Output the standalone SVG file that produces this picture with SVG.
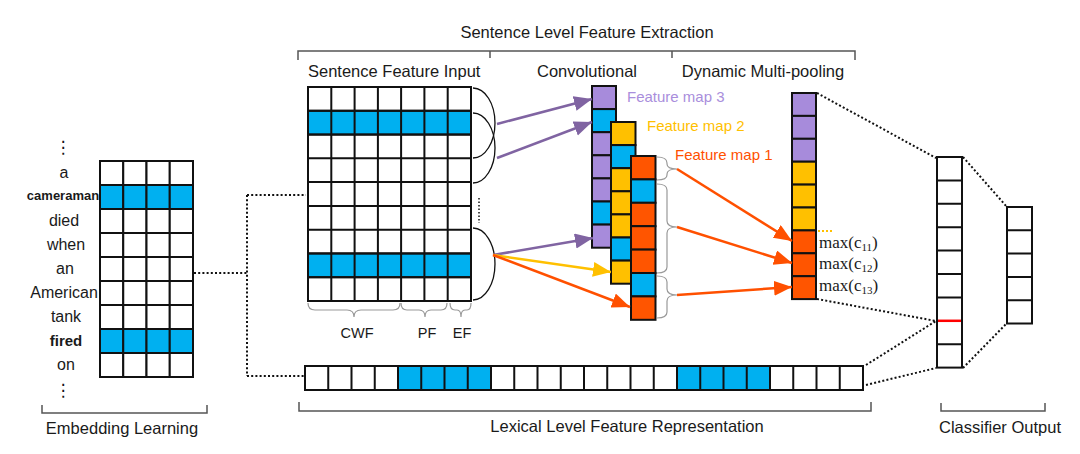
<svg xmlns="http://www.w3.org/2000/svg" width="1080" height="454" viewBox="0 0 1080 454">
<style>
text{font-family:"Liberation Sans",Arial,sans-serif;fill:#1a1a1a}
.lbl{font-size:16.5px}
.mid{text-anchor:middle}
.vd{font-family:"DejaVu Sans",sans-serif;font-size:17px;fill:#111}
.w{fill:#fff;stroke:#111;stroke-width:2}
.b{fill:#00B0F0;stroke:#111;stroke-width:2}
.p{fill:#A78BDB;stroke:#111;stroke-width:2}
.y{fill:#FFC000;stroke:#111;stroke-width:2}
.o{fill:#FF5500;stroke:#111;stroke-width:2}
.dot{fill:none;stroke:#111;stroke-width:2;stroke-dasharray:2 2.2}
.brk{fill:none;stroke:#555;stroke-width:1.5}
.brace{fill:none;stroke:#999;stroke-width:1.2}
.arc{fill:none;stroke:#111;stroke-width:1.3}
.ap{stroke:#8064A2;stroke-width:2.5;fill:none}
.ay{stroke:#FFC000;stroke-width:2.5;fill:none}
.ao{stroke:#FF5000;stroke-width:2.5;fill:none}
.serif{font-family:"Liberation Serif","Times New Roman",serif;font-size:17px}
</style>
<defs>
<marker id="mp" markerUnits="userSpaceOnUse" markerWidth="20" markerHeight="16" refX="18" refY="7.5" orient="auto"><path d="M0,0 L18,7.5 L0,15 z" fill="#8064A2"/></marker>
<marker id="my" markerUnits="userSpaceOnUse" markerWidth="20" markerHeight="16" refX="18" refY="7.5" orient="auto"><path d="M0,0 L18,7.5 L0,15 z" fill="#FFC000"/></marker>
<marker id="mo" markerUnits="userSpaceOnUse" markerWidth="20" markerHeight="16" refX="18" refY="7.5" orient="auto"><path d="M0,0 L18,7.5 L0,15 z" fill="#FF5000"/></marker>
</defs>

<!-- section titles and brackets -->
<g id="titles">
<text class="lbl mid" x="587" y="38">Sentence Level Feature Extraction</text>
<path class="brk" d="M298,60 L298,51 L855,51 L855,60 M490,51 L490,58 M672,51 L672,58"/>
<text class="lbl" x="308" y="77">Sentence Feature Input</text>
<text class="lbl mid" x="587" y="77">Convolutional</text>
<text class="lbl mid" x="763" y="77">Dynamic Multi-pooling</text>
<path class="brk" d="M42,405 L42,413 L207,413 L207,405"/>
<text class="lbl mid" x="122" y="434">Embedding Learning</text>
<path class="brk" d="M299,402 L299,411 L871,411 L871,402"/>
<text class="lbl mid" x="627" y="432">Lexical Level Feature Representation</text>
<path class="brk" d="M941,403 L941,411 L1045,411 L1045,403"/>
<text class="lbl mid" x="1000" y="433">Classifier Output</text>
</g>

<!-- embedding learning -->
<g id="embedding">
<g style="font-size:16px" text-anchor="middle">
<text class="vd" x="63" y="153">⋮</text>
<text x="64" y="178">a</text>
<text x="63" y="200" style="font-size:13px;font-weight:bold">cameraman</text>
<text x="64" y="226">died</text>
<text x="66" y="250">when</text>
<text x="65" y="274">an</text>
<text x="64" y="298">American</text>
<text x="66" y="322">tank</text>
<text x="66" y="346" style="font-size:15px;font-weight:bold">fired</text>
<text x="66" y="370">on</text>
<text class="vd" x="63" y="396">⋮</text>
</g>
<g>
<rect class="w" x="100" y="161" width="23.25" height="24"/><rect class="w" x="123.25" y="161" width="23.25" height="24"/><rect class="w" x="146.5" y="161" width="23.25" height="24"/><rect class="w" x="169.75" y="161" width="23.25" height="24"/>
<rect class="b" x="100" y="185" width="23.25" height="24"/><rect class="b" x="123.25" y="185" width="23.25" height="24"/><rect class="b" x="146.5" y="185" width="23.25" height="24"/><rect class="b" x="169.75" y="185" width="23.25" height="24"/>
<rect class="w" x="100" y="209" width="23.25" height="24"/><rect class="w" x="123.25" y="209" width="23.25" height="24"/><rect class="w" x="146.5" y="209" width="23.25" height="24"/><rect class="w" x="169.75" y="209" width="23.25" height="24"/>
<rect class="w" x="100" y="233" width="23.25" height="24"/><rect class="w" x="123.25" y="233" width="23.25" height="24"/><rect class="w" x="146.5" y="233" width="23.25" height="24"/><rect class="w" x="169.75" y="233" width="23.25" height="24"/>
<rect class="w" x="100" y="257" width="23.25" height="24"/><rect class="w" x="123.25" y="257" width="23.25" height="24"/><rect class="w" x="146.5" y="257" width="23.25" height="24"/><rect class="w" x="169.75" y="257" width="23.25" height="24"/>
<rect class="w" x="100" y="281" width="23.25" height="24"/><rect class="w" x="123.25" y="281" width="23.25" height="24"/><rect class="w" x="146.5" y="281" width="23.25" height="24"/><rect class="w" x="169.75" y="281" width="23.25" height="24"/>
<rect class="w" x="100" y="305" width="23.25" height="24"/><rect class="w" x="123.25" y="305" width="23.25" height="24"/><rect class="w" x="146.5" y="305" width="23.25" height="24"/><rect class="w" x="169.75" y="305" width="23.25" height="24"/>
<rect class="b" x="100" y="329" width="23.25" height="24"/><rect class="b" x="123.25" y="329" width="23.25" height="24"/><rect class="b" x="146.5" y="329" width="23.25" height="24"/><rect class="b" x="169.75" y="329" width="23.25" height="24"/>
<rect class="w" x="100" y="353" width="23.25" height="24"/><rect class="w" x="123.25" y="353" width="23.25" height="24"/><rect class="w" x="146.5" y="353" width="23.25" height="24"/><rect class="w" x="169.75" y="353" width="23.25" height="24"/>
</g>
</g>

<!-- sentence feature input grid -->
<g id="sentence-input">
<g>
<rect class="w" x="308" y="87" width="163" height="214"/>
<rect class="b" x="308" y="110.8" width="163" height="23.8"/>
<rect class="b" x="308" y="253.4" width="163" height="23.8"/>
<path fill="none" stroke="#111" stroke-width="2" d="M331.3,87V301 M354.6,87V301 M377.9,87V301 M401.1,87V301 M424.4,87V301 M447.7,87V301 M308,110.8H471 M308,134.6H471 M308,158.3H471 M308,182.1H471 M308,205.9H471 M308,229.7H471 M308,253.4H471 M308,277.2H471"/>
</g>
<path class="brace" d="M308,303 Q308,310 315,310 L347,310 Q354,310 354,317 Q354,310 361,310 L393,310 Q400,310 400,303"/>
<path class="brace" d="M401,303 Q401,310 407,310 L419,310 Q425,310 425,317 Q425,310 431,310 L441,310 Q447,310 447,303"/>
<path class="brace" d="M450,303 Q450,310 455,310 L457,310 Q461,310 461,317 Q461,310 465,310 L467,310 Q471,310 471,303"/>
<text x="357" y="338" class="mid" style="font-size:14.5px">CWF</text>
<text x="427" y="338" class="mid" style="font-size:14.5px">PF</text>
<text x="462" y="338" class="mid" style="font-size:14.5px">EF</text>
<path class="arc" d="M473,88 A22,35 0 0 1 473,158"/>
<path class="arc" d="M473,113 A22,35 0 0 1 473,183"/>
<path class="arc" d="M473,228 A22,36 0 0 1 473,300"/>
<path fill="none" stroke="#111" stroke-width="1.5" stroke-dasharray="1.5 2" d="M479,198 V223"/>
</g>

<!-- feature map 3 -->
<g id="feature-map-3">
<rect class="p" x="592" y="86" width="24" height="23.1"/>
<rect class="b" x="592" y="109.1" width="24" height="23.1"/>
<rect class="p" x="592" y="132.2" width="24" height="23.1"/>
<rect class="p" x="592" y="155.3" width="24" height="23.1"/>
<rect class="p" x="592" y="178.4" width="24" height="23.1"/>
<rect class="b" x="592" y="201.5" width="24" height="23.1"/>
<rect class="p" x="592" y="224.6" width="24" height="23.1"/>
<text x="627" y="102" style="font-size:15px;fill:#A98EDC">Feature map 3</text>
</g>
<!-- feature map 2 -->
<g id="feature-map-2">
<rect class="y" x="611" y="122" width="24.5" height="23.1"/>
<rect class="b" x="611" y="145.1" width="24.5" height="23.1"/>
<rect class="y" x="611" y="168.2" width="24.5" height="23.1"/>
<rect class="y" x="611" y="191.3" width="24.5" height="23.1"/>
<rect class="y" x="611" y="214.4" width="24.5" height="23.1"/>
<rect class="b" x="611" y="237.5" width="24.5" height="23.1"/>
<rect class="y" x="611" y="260.6" width="24.5" height="23.1"/>
<text x="647" y="131" style="font-size:15px;fill:#FFC000">Feature map 2</text>
</g>
<!-- feature map 1 -->
<g id="feature-map-1">
<rect class="o" x="631" y="156" width="24.5" height="23.4"/>
<rect class="b" x="631" y="179.4" width="24.5" height="23.4"/>
<rect class="o" x="631" y="202.8" width="24.5" height="23.4"/>
<rect class="o" x="631" y="226.2" width="24.5" height="23.4"/>
<rect class="o" x="631" y="249.6" width="24.5" height="23.4"/>
<rect class="b" x="631" y="273" width="24.5" height="23.4"/>
<rect class="o" x="631" y="296.4" width="24.5" height="23.4"/>
<text x="675" y="160" style="font-size:15px;fill:#FF5000">Feature map 1</text>
<path class="brace" d="M657,157 Q667,157 667,163 L667,164 Q667,169 677,169 Q667,169 667,174 L667,175 Q667,180 657,180"/>
<path class="brace" d="M657,184 Q667,184 667,190 L667,221 Q667,227 677,227 Q667,227 667,233 L667,267 Q667,273 657,273"/>
<path class="brace" d="M657,276 Q667,276 667,282 L667,289 Q667,295 677,295 Q667,295 667,301 L667,312 Q667,318 657,318"/>
</g>

<!-- dynamic multi-pooling -->
<g id="pooling">
<rect class="p" x="792" y="93" width="24" height="22.9"/>
<rect class="p" x="792" y="115.9" width="24" height="22.9"/>
<rect class="p" x="792" y="138.8" width="24" height="22.9"/>
<rect class="y" x="792" y="161.7" width="24" height="22.9"/>
<rect class="y" x="792" y="184.6" width="24" height="22.9"/>
<rect class="y" x="792" y="207.5" width="24" height="22.9"/>
<rect class="o" x="792" y="230.4" width="24" height="22.9"/>
<rect class="o" x="792" y="253.3" width="24" height="22.9"/>
<rect class="o" x="792" y="276.2" width="24" height="22.9"/>
<path fill="none" stroke="#FFC000" stroke-width="2" stroke-dasharray="2 2" d="M818,231 H833"/>
<text class="serif" x="819" y="248">max(c<tspan style="font-size:11px" dy="3">11</tspan><tspan dy="-3">)</tspan></text>
<text class="serif" x="819" y="269">max(c<tspan style="font-size:11px" dy="3">12</tspan><tspan dy="-3">)</tspan></text>
<text class="serif" x="819" y="291">max(c<tspan style="font-size:11px" dy="3">13</tspan><tspan dy="-3">)</tspan></text>
</g>

<!-- lexical bar -->
<g id="lexical-bar">
<rect class="w" x="305" y="366" width="558" height="24"/>
<rect class="b" x="398" y="366" width="93" height="24"/>
<rect class="b" x="677" y="366" width="93" height="24"/>
<path fill="none" stroke="#111" stroke-width="2" d="M328.25,366v24 M351.5,366v24 M374.75,366v24 M398,366v24 M421.25,366v24 M444.5,366v24 M467.75,366v24 M491,366v24 M514.25,366v24 M537.5,366v24 M560.75,366v24 M584,366v24 M607.25,366v24 M630.5,366v24 M653.75,366v24 M677,366v24 M700.25,366v24 M723.5,366v24 M746.75,366v24 M770,366v24 M793.25,366v24 M816.5,366v24 M839.75,366v24"/>
</g>

<!-- classifier -->
<g id="classifier">
<rect class="w" x="937" y="157" width="25" height="210.6"/>
<path fill="none" stroke="#111" stroke-width="2" d="M937,180.4H962 M937,203.8H962 M937,227.2H962 M937,250.6H962 M937,274H962 M937,297.4H962 M937,344.2H962"/>
<path fill="none" stroke="#FF0000" stroke-width="2.5" d="M938,320.8H961"/>
</g>
<g id="output">
<rect class="w" x="1007" y="207" width="25" height="116.5"/>
<path fill="none" stroke="#111" stroke-width="2" d="M1007,230.3H1032 M1007,253.6H1032 M1007,276.9H1032 M1007,300.2H1032"/>
</g>

<!-- connectors -->
<g id="connectors">
<path class="dot" d="M194,273 H247 M247,195 V376 M247,195 H306 M247,376 H304"/>
<path class="dot" d="M817,93 L936,158 M817,299 L936,321 M866,365 L936,321 M866,385 L936,368 M963,157 L1007,207 M963,368 L1007,323"/>
<line class="ap" x1="497" y1="124" x2="592" y2="99" marker-end="url(#mp)"/>
<line class="ap" x1="497" y1="158" x2="592" y2="122" marker-end="url(#mp)"/>
<line class="ap" x1="493" y1="255" x2="593" y2="238" marker-end="url(#mp)"/>
<line class="ay" x1="493" y1="255" x2="611" y2="272" marker-end="url(#my)"/>
<line class="ao" x1="493" y1="255" x2="630" y2="307" marker-end="url(#mo)"/>
<line class="ao" x1="677" y1="169" x2="792" y2="241" marker-end="url(#mo)"/>
<line class="ao" x1="677" y1="227" x2="792" y2="263" marker-end="url(#mo)"/>
<line class="ao" x1="677" y1="295" x2="792" y2="287" marker-end="url(#mo)"/>
</g>
</svg>
